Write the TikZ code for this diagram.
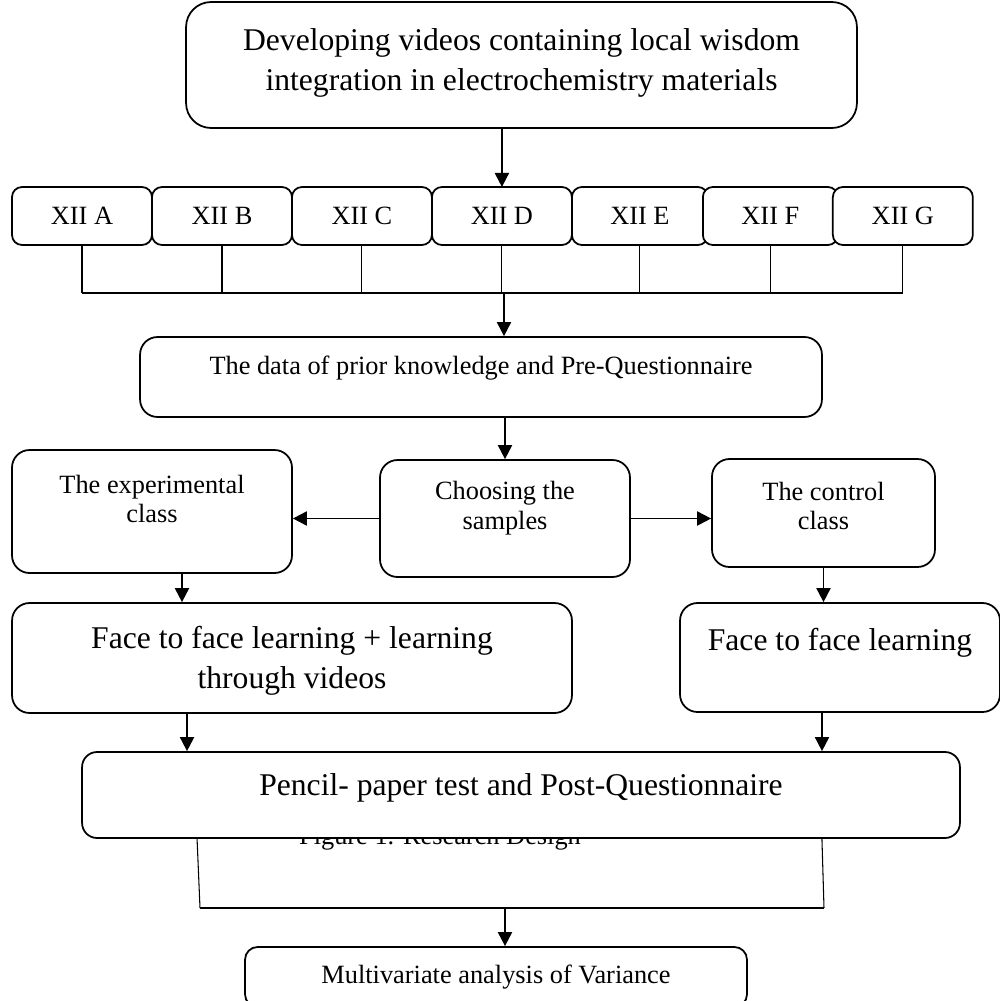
\documentclass[tikz,border=0pt]{standalone}
\usepackage{fontspec}
\setmainfont{Liberation Serif}
\usetikzlibrary{arrows.meta, positioning}

\begin{document}
\begin{tikzpicture}[
    x=0.02cm, y=-0.02cm,
    box/.style={rectangle, draw, line width=1pt, rounded corners=0.35cm, fill=white},
    classbox/.style={box, rounded corners=0.2cm, outer sep=0pt, minimum width=2.8cm, minimum height=1.16cm, font=\fontsize{15}{17}\selectfont},
    big/.style={font=\fontsize{18}{22.5}\selectfont, align=center},
    small/.style={font=\fontsize{15}{17}\selectfont, align=center},
    arrow/.style={-{Triangle[length=8pt, width=8pt]}, line width=1.1pt},
    tick/.style={line width=0.6pt},
    node distance=0pt
]
    \useasboundingbox (0,0) rectangle (1000,1001);

    % top box
    \node[box, rounded corners=0.5cm, minimum width=13.42cm, minimum height=2.52cm] (develop) at (521.5,65) {};
    \node[big] (develop-t) at ([yshift=0.04cm]develop.center) {Developing videos containing local wisdom\\integration in electrochemistry materials};

    % the classes
    \node[classbox] (xa) at (82,216) {XII A};
    \node[classbox, right=of xa] (xb) {XII B};
    \node[classbox, right=of xb] (xc) {XII C};
    \node[classbox, right=of xc] (xd) {XII D};
    \node[classbox, right=of xd, minimum width=2.72cm] (xe) {XII E};
    \node[classbox, right=-0.1cm of xe, minimum width=2.7cm] (xf) {XII F};
    \node[classbox, right=-0.1cm of xf] (xg) {XII G};

    \coordinate (bus) at (504,293);

    \node[box, minimum width=13.64cm, minimum height=1.6cm] (data) at (481,377) {};
    \node[small] (data-t) at ([yshift=0.18cm]data.center) {The data of prior knowledge and Pre-Questionnaire};

    \node[box, minimum width=5cm, minimum height=2.34cm] (choose) at (505,518.5) {};
    \node[small] (choose-t) at ([yshift=0.2cm]choose.center) {Choosing the\\samples};

    \node[box, minimum width=5.6cm, minimum height=2.46cm] (exper) at (152,511.5) {};
    \node[small] (exper-t) at ([yshift=0.25cm]exper.center) {The experimental\\class};

    \node[box, minimum width=4.46cm, minimum height=2.16cm] (control) at (823.5,513) {};
    \node[small] (control-t) at ([yshift=0.14cm]control.center) {The control\\class};

    \node[box, minimum width=11.2cm, minimum height=2.2cm] (faceL) at (292,658) {};
    \node[big] (faceL-t) at ([yshift=-0.06cm]faceL.center) {Face to face learning + learning\\through videos};

    \node[box, minimum width=6.4cm, minimum height=2.18cm] (faceR) at (840,657.5) {};
    \node[big] (faceR-t) at ([yshift=0.3cm]faceR.center) {Face to face learning};

    % caption sits behind the test box
    \node[small, anchor=base] (caption) at (440,844) {Figure 1. Research Design};

    \node[box, rounded corners=0.3cm, minimum width=17.56cm, minimum height=1.72cm] (pencil) at (521,795) {};
    \node[big] (pencil-t) at ([yshift=0.14cm]pencil.center) {Pencil- paper test and Post-Questionnaire};

    \node[box, rounded corners=0.25cm, minimum width=10.04cm, minimum height=1.2cm] (multi) at (496,977) {};
    \node[small] (multi-t) at (multi.center) {Multivariate analysis of Variance};

    \coordinate (jl) at (200,908);
    \coordinate (jr) at (824,908);

    % connectors
    \draw[arrow] (develop.south -| xd.north) -- (xd.north);
    \foreach \c in {xa,xb,xc,xd,xe,xf,xg}
        \draw[tick] (\c.south) -- (\c.south |- bus);
    \draw[line width=1pt] (xa.south |- bus) -- (xg.south |- bus);
    \draw[arrow] (bus) -- (bus |- data.north);
    \draw[arrow] (data.south -| choose.north) -- (choose.north);
    \draw[arrow] (choose.west) -- (choose.west -| exper.east);
    \draw[arrow] (choose.east) -- (choose.east -| control.west);
    \draw[arrow] ([xshift=0.6cm]exper.south) -- ([xshift=0.6cm]exper.south |- faceL.north);
    \draw[arrow] (control.south) -- (control.south |- faceR.north);
    \draw[arrow] ([xshift=-2.1cm]faceL.south) -- ([xshift=-2.1cm]faceL.south |- pencil.north);
    \draw[arrow] ([xshift=-0.36cm]faceR.south) -- ([xshift=-0.36cm]faceR.south |- pencil.north);

    \draw[tick] ([xshift=-6.48cm]pencil.south) -- (jl);
    \draw[tick] ([xshift=6.02cm]pencil.south) -- (jr);
    \draw[line width=1pt] (jl) -- (jr);
    \draw[arrow] ([xshift=0.18cm]multi.north |- jl) -- ([xshift=0.18cm]multi.north);
\end{tikzpicture}
\end{document}
